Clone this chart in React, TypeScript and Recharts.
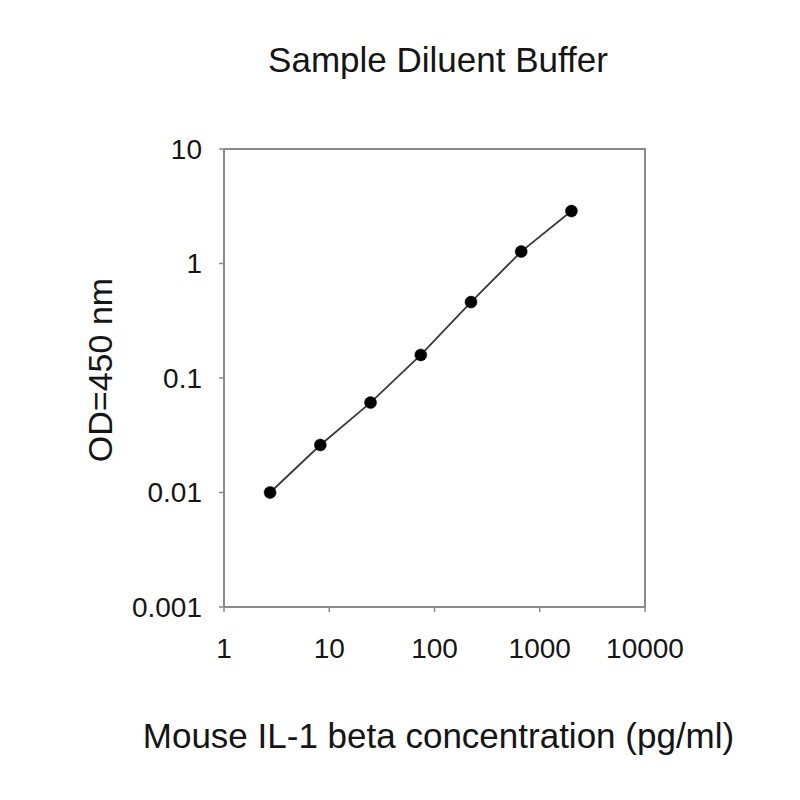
import React from "react";
import {
  LineChart,
  Line,
  XAxis,
  YAxis,
  ReferenceArea,
  Label,
} from "recharts";

// serial 3-fold dilution standard curve
const concentrations = [2.74, 8.23, 24.69, 74.07, 222.2, 666.7, 2000];
const odValues = [0.01, 0.026, 0.061, 0.159, 0.46, 1.27, 2.87];

const xTicks = [1, 10, 100, 1000, 10000];
const yTicks = [0.001, 0.01, 0.1, 1, 10];

const title = "Sample Diluent Buffer";
const xLabel = "Mouse IL-1 beta concentration (pg/ml)";
const yLabel = "OD=450 nm";

const data = concentrations.map((c, i) => ({ conc: c, od: odValues[i] }));

const FONT = '"Liberation Sans", Arial, Helvetica, sans-serif';
const TEXT = "#151515";
const AXIS = "#8a8a8a";

export default function App() {
  return (
    <div style={{ position: "absolute", left: 0, top: 0, width: 800, height: 800, background: "#fff" }}>
      <div
        style={{
          position: "absolute",
          left: 238,
          top: 40,
          width: 400,
          textAlign: "center",
          fontFamily: FONT,
          fontSize: 35,
          lineHeight: "40px",
          color: TEXT,
        }}
      >
        {title}
      </div>
      <LineChart
        width={800}
        height={800}
        data={data}
        margin={{ top: 149, right: 155, bottom: 0, left: 0 }}
        style={{ fontFamily: FONT }}
      >
        <ReferenceArea
          x1={1}
          x2={10000}
          y1={0.001}
          y2={10}
          fill="none"
          stroke={AXIS}
          strokeWidth={2}
          ifOverflow="visible"
        />
        <XAxis
          dataKey="conc"
          type="number"
          scale="log"
          domain={[1, 10000]}
          ticks={xTicks}
          allowDataOverflow
          height={193}
          tickSize={5}
          tickMargin={26}
          axisLine={{ stroke: AXIS, strokeWidth: 2 }}
          tickLine={{ stroke: AXIS, strokeWidth: 1.5 }}
          tick={{ fontSize: 28, fill: TEXT, fontFamily: FONT }}
          interval={0}
        >
          <Label
            content={({ viewBox }: any) => (
              <text
                x={viewBox.x + viewBox.width / 2 + 4}
                y={748}
                textAnchor="middle"
                fontSize={35}
                fill={TEXT}
                fontFamily={FONT}
              >
                {xLabel}
              </text>
            )}
          />
        </XAxis>
        <YAxis
          dataKey="od"
          type="number"
          scale="log"
          domain={[0.001, 10]}
          ticks={yTicks}
          allowDataOverflow
          width={224}
          tickSize={5}
          tickMargin={17}
          axisLine={{ stroke: AXIS, strokeWidth: 2 }}
          tickLine={{ stroke: AXIS, strokeWidth: 1.5 }}
          tick={{ fontSize: 28, fill: TEXT, fontFamily: FONT }}
          tickFormatter={(v: number) => String(v)}
          interval={0}
        >
          <Label
            content={({ viewBox }: any) => {
              const cx = 112;
              const cy = viewBox.y + viewBox.height / 2 - 8;
              return (
                <text
                  x={cx}
                  y={cy}
                  transform={`rotate(-90, ${cx}, ${cy})`}
                  textAnchor="middle"
                  fontSize={34}
                  fill={TEXT}
                  fontFamily={FONT}
                >
                  {yLabel}
                </text>
              );
            }}
          />
        </YAxis>
        <Line
          type="linear"
          dataKey="od"
          stroke="#3a3a3a"
          strokeWidth={1.8}
          dot={{ r: 6, fill: "#000", stroke: "#000", strokeWidth: 0.5 }}
          activeDot={false}
          isAnimationActive={false}
        />
      </LineChart>
    </div>
  );
}
